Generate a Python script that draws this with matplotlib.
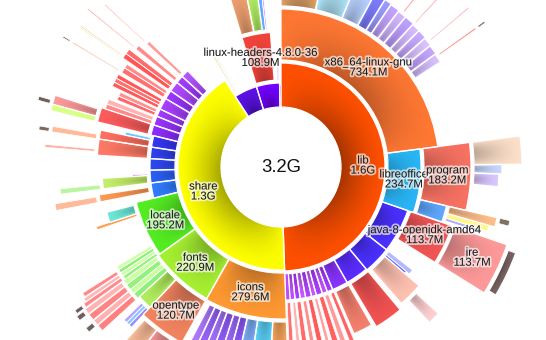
import numpy as np
import matplotlib
matplotlib.use("Agg")
import matplotlib.pyplot as plt
from matplotlib.patches import Wedge
from matplotlib import patheffects as pe
from matplotlib.colors import to_rgb

plt.rcParams['font.family'] = ['Liberation Sans', 'DejaVu Sans']

# disk usage of /usr, sizes in MB; (name, size, colour, ring depth)
# entries with colour None are files (not drawn)
usr = [("lib", 1582, "#ff5000", 44), ("share", 1325, "#ffff00", 43),
       ("usrx", 142, "#5c12e6", 24), ("src", 142, "#7200ff", 24), ("blk", 9, "#1e1e1e", 22)]

lib = [("x86_64-linux-gnu", 734.1, "#ff7733", 51), ("libreoffice", 234.7, "#29b6f6", 33),
       ("jvm", 170, "#4a30ff", 27), ("b2", 107, "#4a30ff", 27), ("b3", 89, "#5a2cff", 26),
       ("b4", 62, "#8a33ff", 26),
       ("pa", 22, "#a83cff", 26), ("pb", 20, "#c050ff", 26), ("pc", 24, "#aa40ff", 26),
       ("pd", 19, "#c458ff", 26), ("pe", 23, "#b044ff", 26), ("pf", 21, "#c55cff", 26),
       ("pg", 20, "#ad40ff", 26), ("ph", 19, "#c050ff", 26), ("pi", 17, "#b84cff", 26)]

x86 = [("x1", 110, "#e9a86a", 36), ("x2", 88, "#b3ebff", 36), ("x3", 55, "#b8d2ff", 36),
       ("x4", 30, "#7e7eff", 36), ("x5", 20, "#9c9cff", 36),
       ("xa", 26, "#c4a4ff", 35), ("xb", 24, "#d2b6ff", 34), ("xc", 27, "#bfa0ff", 34),
       ("xd", 23, "#d6bcff", 33), ("xe", 25, "#c8aaff", 33), ("xf", 24, "#dcc4ff", 32),
       ("xg", 26, "#c6a6ff", 31), ("xh", 25, "#d8c2ff", 30)]
xb = [(None, 10, None, 0), ("xb1", 4, "#ff9a9a", 55)]
xd = [("xd1", 3, "#ff8a8a", 60)]
xf = [(None, 12, None, 0), ("xf1", 3, "#ffa0a0", 50)]
xh = [(None, 5, None, 0), ("xh1", 4, "#ff9090", 45)]
xh1 = [("xh2", 4, "#7a6a6a", 8)]

libreoffice = [("program", 183.2, "#f77262", 47), ("lo2", 50, "#5fa8ff", 27)]
program = [("p1", 60, "#fde0ca", 48), ("p2", 22, "#c9d9ff", 28), ("p3", 30, "#dcc8ff", 25)]
lo2 = [("q1", 22, "#ffbf8c", 49), ("q2", 14, "#fff78a", 43), ("q3", 8, "#aab0ff", 34)]
q1 = [("q1g", 12, "#7d7262", 10)]

jvm = [("java-8-openjdk-amd64", 113.7, "#f25555", 44)]
java = [("jre", 113.7, "#ff9a9a", 55)]
jre = [(None, 10, None, 0), ("jr", 95, "#7a6262", 8)]
b2 = [("b2a", 15, "#b6b8ff", 30), ("b2b", 8, "#5b6cff", 26), ("b2c", 70, "#ffc2b2", 45)]
b2c = [(None, 20, None, 0), ("b2d", 30, "#ffd2d2", 30)]
b3 = [("b3a", 80, "#f25252", 50)]
b4 = [("b4a", 55, "#f4806e", 46)]
pa = [("pa1", 12, "#ff6464", 60)]
pb = [("pb1", 14, "#ff9a9a", 60)]
pc = [("pc1", 16, "#ff6060", 60)]
pd = [("pd1", 10, "#ffa0a0", 60)]
pe_ = [("pe1", 15, "#ff5a5a", 60)]
pf = [("pf1", 12, "#ff8c8c", 60)]
pg = [("pg1", 14, "#ff6a6a", 60)]
ph = [("ph1", 10, "#ffb0b0", 60)]
pi = [("pi1", 12, "#ff7070", 60)]

share = [("icons", 279.6, "#ff9933", 46), ("fonts", 220.9, "#a6f032", 45),
         ("locale", 195.2, "#55ee22", 43),
         ("bl1", 60, "#2f7dff", 25), ("bl2", 50, "#2a60f8", 25), ("bl3", 45, "#2d48f2", 25),
         ("bl4", 45, "#3040f0", 25), ("bl5", 45, "#3535f5", 25),
         ("pu1", 40, "#8e2cff", 28), ("pu2", 35, "#9933ff", 28), ("pu3", 30, "#a03cff", 28),
         ("pu4", 45, "#a840ff", 28), ("pu5", 35, "#9a36ff", 28), ("pu6", 40, "#b048ff", 28),
         ("pu7", 30, "#a23cff", 28), ("pu8", 30, "#b555ff", 28)]

icons = [("i1", 45, "#ffaa5e", 45), ("i2", 50, "#5ed8ff", 45), ("i3", 35, "#7fb2ff", 45),
         ("ia", 24, "#8f5cff", 45), ("ib", 22, "#a06cff", 45), ("ic", 23, "#9460ff", 45),
         ("id", 21, "#a874ff", 45), ("ie", 22, "#9a66ff", 45), ("if", 20, "#b07cff", 45)]
fonts = [("opentype", 120.7, "#f2845f", 48), ("f2", 40, "#b2ee5e", 38),
         ("fa", 16, "#8cf07a", 40), ("fb", 14, "#c8ff9c", 40), ("fc", 16, "#92f27e", 40),
         ("fd", 14, "#ccffa2", 40)]
opentype = [("o1", 70, "#ff9a9a", 42), ("o2", 40, "#ffc09c", 40)]
f2 = [("f2a", 8, "#9c8cff", 24), ("f2b", 8, "#88c8ff", 24), ("f2c", 8, "#b4a0ff", 24)]
fa = [("far", 14, "#ff8080", 45)]
fb = [("fbr", 12, "#ffb0b0", 45)]
fc = [("fcr", 14, "#ff8484", 45)]
fd = [("fdr", 12, "#ffb4b4", 45)]
fbr = [("g0", 10, "#6f5f5f", 8)]
fdr = [("g5", 10, "#6f5f5f", 8)]
locale = [("lc1", 10, "#96f282", 40), ("lc2", 10, "#ccffa0", 40), ("lc3", 10, "#8cf07a", 40),
          ("lc4", 10, "#d0ffa6", 40),
          (None, 110, None, 0), ("lc8", 8, "#ffa050", 42), ("lc7", 30, "#6ee8d8", 28)]
lc1 = [("lc1r", 9, "#ff8888", 45)]
lc2 = [("lc2r", 8, "#ffb8b8", 42)]
lc3 = [("lc3r", 9, "#ff8888", 40)]
lc1r = [("g4", 8, "#6f5f5f", 8)]

bl1 = [(None, 25, None, 0), ("bl1a", 20, "#ff9a55", 50)]
bl1a = [("bl1b", 15, "#ffbb99", 42)]
bl2 = [("bl2a", 30, "#c4ef6a", 45), ("bl2b", 5, "#dd55ff", 15)]
bl2a = [("bl2c", 12, "#bbf5a0", 40)]
bl4 = [("bl4a", 45, "#ff7a66", 50)]
bl4a = [(None, 10, None, 0), ("bl4b", 6, "#ffb0a0", 50)]
bl5 = [("bl5a", 25, "#ff7060", 50), ("bl5b", 10, "#66ccff", 25)]
bl5a = [("bl5c", 12, "#ffbb99", 45)]
bl5c = [("g1", 8, "#7a6a60", 10)]

pu1 = [("pr1", 40, "#ff5c5c", 52)]
pr1 = [("pr1a", 14, "#d8ff88", 45), ("pr1b", 20, "#ff9a9a", 45)]
pr1b = [("g2", 8, "#6e6058", 12)]
pu2 = [("pr2", 14, "#ff8a8a", 48), ("pr2b", 14, "#ffb4b4", 48)]
pu3 = [("pr3", 12, "#ff6868", 40), ("pr3b", 12, "#ff9090", 40)]
pu4 = [("pr4", 12, "#ff5a5a", 50), ("pr4b", 12, "#ff7070", 50), ("pr4c", 12, "#ff5a5a", 50)]
pu5 = [("pr5", 15, "#ff7070", 48), ("pr5b", 12, "#ff8a8a", 48)]
pu6 = [("pr6", 14, "#ff5555", 55), ("pr6b", 14, "#ff6a6a", 55)]
pu7 = [("pr7", 12, "#ff8a8a", 50)]
pu8 = [("pr8", 10, "#ff9a9a", 45)]
pr5 = [("l1", 3, "#ffb0a0", 55)]
pr6 = [("l2", 3, "#d8ff99", 50), ("l3", 3, "#ffc0a0", 50)]
pr7 = [("l4", 3, "#ffa0a0", 60)]
pr8 = [("l5", 3, "#ffb8a8", 55)]
l1 = [("g3", 3, "#6e6058", 8)]

usrx = [(None, 12, None, 0), ("u1", 6, "#ffcc99", 42), ("u2", 5, "#ccff99", 46), ("u3", 4, "#99eeff", 40)]
src = [(None, 2, None, 0), ("linux-headers-4.8.0-36", 108.9, "#f2433b", 48),
       (None, 20, None, 0), ("mg", 5, "#c040ff", 14)]
linux = [("lh1", 48, "#f0a271", 45), ("lh2", 32, "#b4f064", 45), ("lh3", 12, "#66aaff", 45),
         ("lh4", 5, "#c8a0ff", 45)]

tree = {"usr": usr, "lib": lib, "x86_64-linux-gnu": x86, "xb": xb, "xd": xd, "xf": xf,
        "xh": xh, "xh1": xh1, "libreoffice": libreoffice, "program": program, "lo2": lo2,
        "q1": q1, "jvm": jvm, "java-8-openjdk-amd64": java, "jre": jre, "b2": b2,
        "b2c": b2c, "b3": b3, "b4": b4, "pa": pa, "pb": pb, "pc": pc, "pd": pd, "pe": pe_,
        "pf": pf, "pg": pg, "ph": ph, "pi": pi, "share": share, "icons": icons,
        "fonts": fonts, "opentype": opentype, "f2": f2, "fa": fa, "fb": fb, "fc": fc,
        "fd": fd, "fbr": fbr, "fdr": fdr, "locale": locale, "lc1": lc1,
        "lc2": lc2, "lc3": lc3, "lc1r": lc1r, "bl1": bl1, "bl1a": bl1a, "bl2": bl2,
        "bl2a": bl2a, "bl4": bl4,
        "bl4a": bl4a, "bl5": bl5, "bl5a": bl5a, "bl5c": bl5c, "pu1": pu1, "pr1": pr1,
        "pr1b": pr1b, "pu2": pu2, "pu3": pu3, "pu4": pu4, "pu5": pu5, "pu6": pu6,
        "pu7": pu7, "pu8": pu8, "pr5": pr5, "pr6": pr6, "pr7": pr7, "pr8": pr8, "l1": l1,
        "usrx": usrx, "src": src, "linux-headers-4.8.0-36": linux}

labelled = ["lib", "share", "x86_64-linux-gnu", "libreoffice", "program",
            "java-8-openjdk-amd64", "jre", "icons", "fonts", "locale", "opentype",
            "linux-headers-4.8.0-36"]

total = sum(s for _, s, _, _ in usr)
deg_per_mb = 360.0 / total
hole = 59
gap = 3


def fmt(mb):
    if mb >= 1000:
        return "%.1fG" % (mb / 1000.0)
    return "%.1fM" % mb


fig = plt.figure(figsize=(5.46, 3.40), dpi=100)
ax = fig.add_axes([0, 0, 1, 1])
ax.axis("off")


def shade(a1, a2, r0, r1, rgb, amp, patch):
    ts = np.radians(np.linspace(a1, a2, 60))
    xs = np.concatenate([r0 * np.sin(ts), r1 * np.sin(ts)])
    ys = np.concatenate([r0 * np.cos(ts), r1 * np.cos(ts)])
    x0, x1, y0, y1 = xs.min(), xs.max(), ys.min(), ys.max()
    nx, ny = int(x1 - x0) + 3, int(y1 - y0) + 3
    X, Y = np.meshgrid(np.linspace(x0, x1, nx), np.linspace(y0, y1, ny))
    R = np.hypot(X, Y)
    A = np.degrees(np.arctan2(X, Y)) % 360
    u = np.clip((A - a1) / (a2 - a1), 0, 1)
    v = np.clip((R - r0) / (r1 - r0), 0, 1)
    d = amp * (1 - v) ** 1.4 * np.sin(np.pi * u) ** 0.7
    img = np.asarray(rgb)[None, None, :] * (1 - d[..., None])
    im = ax.imshow(img, extent=(x0, x1, y0, y1), origin="lower",
                   interpolation="bilinear", zorder=2)
    im.set_clip_path(patch)


labels = []


def draw(parent, a_start, r0, level):
    a = a_start
    for name, size, color, depth in tree.get(parent, []):
        span = size * deg_per_mb
        if color is not None:
            r1 = r0 + depth
            face = Wedge((0, 0), r1, 90 - (a + span), 90 - a, width=depth,
                         facecolor=color, edgecolor="none", zorder=1)
            ax.add_patch(face)
            if span >= 2.0:
                shade(a, a + span, r0, r1, to_rgb(color),
                      0.36 if level == 1 else 0.26, face)
            ax.add_patch(Wedge((0, 0), r1, 90 - (a + span), 90 - a, width=depth,
                               facecolor="none", edgecolor="white",
                               linewidth=0.9 if span > 2 else 0.5, zorder=3))
            if name in labelled:
                am = np.radians(a + span / 2)
                rm = r0 + depth / 2
                labels.append((rm * np.sin(am), rm * np.cos(am), name + "\n" + fmt(size)))
            draw(name, a, r1 + gap, level + 1)
        a += span


draw("usr", 0.0, hole + 1, 1)

halo = [pe.withStroke(linewidth=2.6, foreground="white", alpha=0.65)]
for x, y, s in labels:
    ax.text(x, y, s, ha="center", va="center", fontsize=8.2, color="#1a1a1a",
            linespacing=1.0, path_effects=halo, zorder=5)

ax.text(0, 0, fmt(total), ha="center", va="center", fontsize=13.3, color="#111111", zorder=5)

ax.set_aspect("equal")
ax.set_xlim(-281, 265)
ax.set_ylim(-173, 167)
fig.savefig("out.png", dpi=100, facecolor="white")
